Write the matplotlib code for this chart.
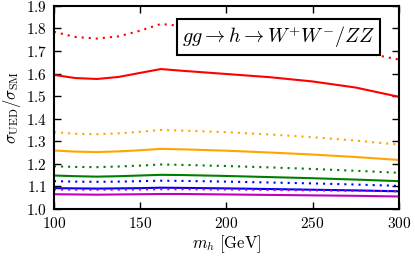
import matplotlib
matplotlib.use("Agg")
import matplotlib.pyplot as plt

plt.rcParams['font.family'] = 'serif'
plt.rcParams['font.serif'] = ['cmr10']
plt.rcParams['mathtext.fontset'] = 'cm'
plt.rcParams['axes.formatter.use_mathtext'] = True

# masses (GeV)
mh = [100, 112.5, 125, 137.5, 150, 162, 175, 200, 225, 250, 275, 300]

# ratio curves
red_dot = [1.785, 1.762, 1.755, 1.765, 1.790, 1.820, 1.810, 1.786, 1.760, 1.732, 1.700, 1.662]
red_sol = [1.594, 1.580, 1.576, 1.585, 1.603, 1.620, 1.612, 1.598, 1.584, 1.565, 1.538, 1.497]
orange_dot = [1.340, 1.333, 1.331, 1.335, 1.342, 1.350, 1.347, 1.340, 1.330, 1.318, 1.303, 1.285]
orange_sol = [1.259, 1.254, 1.252, 1.255, 1.260, 1.266, 1.264, 1.258, 1.250, 1.241, 1.230, 1.217]
green_dot = [1.189, 1.186, 1.185, 1.188, 1.192, 1.197, 1.195, 1.190, 1.184, 1.177, 1.169, 1.160]
green_sol = [1.148, 1.145, 1.143, 1.145, 1.148, 1.151, 1.150, 1.146, 1.141, 1.136, 1.130, 1.123]
blue_dot = [1.123, 1.121, 1.120, 1.121, 1.123, 1.125, 1.124, 1.121, 1.117, 1.113, 1.108, 1.102]
blue_sol = [1.092, 1.091, 1.090, 1.091, 1.092, 1.094, 1.093, 1.091, 1.088, 1.085, 1.082, 1.078]
mag_dot = [1.086, 1.085, 1.085, 1.085, 1.086, 1.087, 1.087, 1.086, 1.084, 1.082, 1.080, 1.078]
mag_sol = [1.065, 1.064, 1.063, 1.064, 1.065, 1.066, 1.066, 1.064, 1.062, 1.060, 1.058, 1.055]

dots = (0, (1, 2.4))

fig = plt.figure(figsize=(4.15, 2.56), dpi=100)
ax = fig.add_axes([0.130, 0.184, 0.831, 0.793])

ax.plot(mh, red_dot, color='red', lw=1.5, ls=dots)
ax.plot(mh, red_sol, color='red', lw=1.5)
ax.plot(mh, orange_dot, color='orange', lw=1.5, ls=dots)
ax.plot(mh, orange_sol, color='orange', lw=1.5)
ax.plot(mh, green_dot, color='green', lw=1.5, ls=dots)
ax.plot(mh, green_sol, color='green', lw=1.5)
ax.plot(mh, blue_dot, color='blue', lw=1.5, ls=dots)
ax.plot(mh, blue_sol, color='blue', lw=1.5)
ax.plot(mh, mag_dot, color='m', lw=1.5, ls=dots)
ax.plot(mh, mag_sol, color='m', lw=1.5)

ax.set_xlim(100, 300)
ax.set_ylim(1.0, 1.9)
ax.set_xticks([100, 150, 200, 250, 300])
ax.set_yticks([1.0, 1.1, 1.2, 1.3, 1.4, 1.5, 1.6, 1.7, 1.8, 1.9])
ax.tick_params(direction='in', top=True, right=True, length=5, width=1, labelsize=11, pad=5)
for s in ax.spines.values():
    s.set_linewidth(1.5)

ax.set_xlabel(r'$m_h\ [\mathrm{GeV}]$', fontsize=12, labelpad=2)
ax.set_ylabel(r'$\sigma_{\rm UED}/\sigma_{\rm SM}$', fontsize=12, labelpad=2)

ax.text(0.93, 0.91, r'$gg \to h \to W^{+}W^{-}/ZZ$', transform=ax.transAxes,
        ha='right', va='top', fontsize=14.5,
        bbox=dict(boxstyle='square,pad=0.25', fc='white', ec='black', lw=1.5))

fig.savefig('out.png', dpi=100)
